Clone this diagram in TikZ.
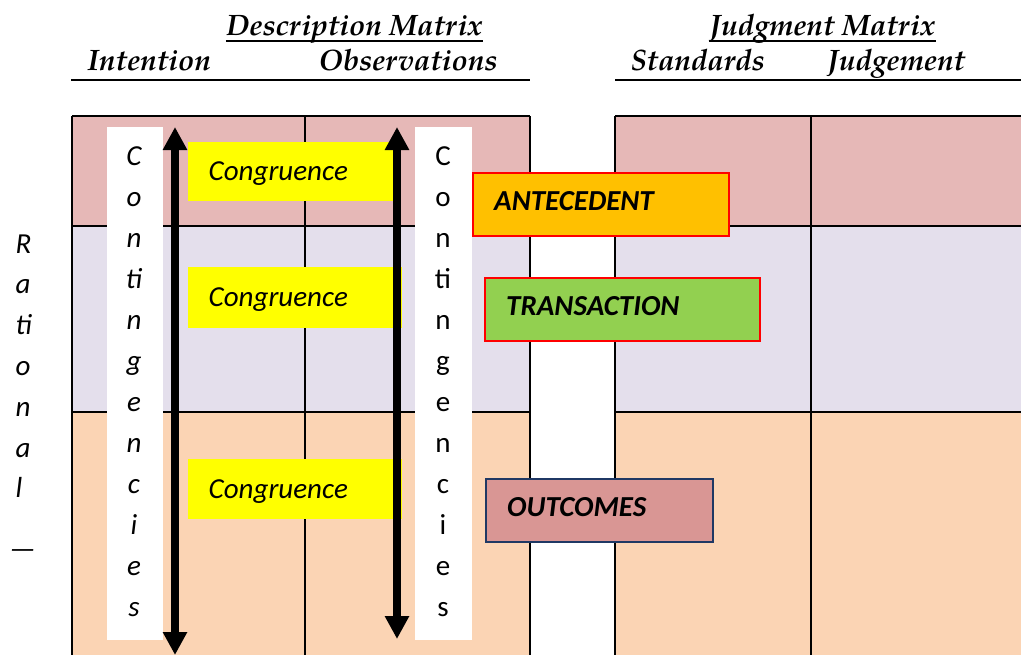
\documentclass[tikz,border=0pt]{standalone}
\usepackage{fontspec}
\setmainfont{Carlito}
\newfontfamily\headfont{texgyrepagella}[Extension=.otf,UprightFont=*-regular,ItalicFont=*-italic,BoldFont=*-bold,BoldItalicFont=*-bolditalic]
\usetikzlibrary{arrows.meta}

\definecolor{antepink}{HTML}{E6B8B7}
\definecolor{translav}{HTML}{E4DFEC}
\definecolor{outpeach}{HTML}{FBD4B4}
\definecolor{congyellow}{HTML}{FFFF00}
\definecolor{anteorange}{HTML}{FFC000}
\definecolor{transgreen}{HTML}{92D050}
\definecolor{outrose}{HTML}{D99694}
\definecolor{outnavy}{HTML}{1F3864}
\definecolor{boxred}{HTML}{FF0000}

\tikzset{
  head/.style={font=\headfont\bfseries\itshape\fontsize{8.4}{10}\selectfont, inner sep=0pt},
  ratletter/.style={font=\itshape\fontsize{8.25}{10}\selectfont, inner sep=0pt, anchor=base west},
  contletter/.style={font=\fontsize{8.25}{10}\selectfont, inner sep=0pt, anchor=base},
  congtext/.style={font=\itshape\fontsize{8.25}{10}\selectfont, inner sep=0pt, anchor=base west},
  stagebox/.style={draw, line width=0.7pt, font=\bfseries\itshape\fontsize{8.25}{10}\selectfont,
    minimum height=0.63cm, inner xsep=0.21cm, anchor=north west, align=left, text depth=0.08cm},
  bigarrow/.style={line width=0.08cm, {Triangle[width=0.23cm,length=0.23cm]}-{Triangle[width=0.23cm,length=0.23cm]}},
  tableline/.style={line width=0.6pt}
}

\begin{document}
\begin{tikzpicture}
  \useasboundingbox (0,0) rectangle (10.21,6.54);

  % headings
  \node[head, anchor=base] (descr) at (3.545,6.19) {Description Matrix};
  \node[head, anchor=base] (judg) at (8.225,6.19) {Judgment Matrix};
  \draw[line width=0.45pt] (descr.west |- 0,6.13) -- (descr.east |- 0,6.13);
  \draw[line width=0.45pt] (judg.west |- 0,6.13) -- (judg.east |- 0,6.13);
  \node[head, anchor=base west] (intent) at (0.87,5.84) {Intention};
  \node[head, anchor=base west] (observ) at (3.18,5.84) {Observations};
  \node[head, anchor=base west] (stand) at (6.30,5.84) {Standards};
  \node[head, anchor=base west] (judgem) at (8.27,5.84) {Judgement};
  \draw[tableline] (0.71,5.74) -- (5.30,5.74);
  \draw[tableline] (6.15,5.74) -- (10.30,5.74);

  % the two tables
  \foreach \xa/\xb in {0.72/5.30, 6.15/10.40} {
    \fill[antepink] (\xa,4.28) rectangle (\xb,5.38);
    \fill[translav] (\xa,2.42) rectangle (\xb,4.28);
    \fill[outpeach] (\xa,-0.20) rectangle (\xb,2.42);
    \foreach \y in {5.38,4.28,2.42}
      \draw[tableline] (\xa,\y) -- (\xb,\y);
    \draw[tableline] (\xa,-0.20) -- (\xa,5.38);
    \draw[tableline] (\xb,-0.20) -- (\xb,5.38);
  }
  \draw[tableline] (3.05,-0.20) -- (3.05,5.38);
  \draw[tableline] (8.11,-0.20) -- (8.11,5.38);

  % contingencies strips
  \fill[white] (1.07,0.14) rectangle (1.63,5.27);
  \fill[white] (4.15,0.14) rectangle (4.72,5.27);
  \foreach \c [count=\i] in {C,o,n,ti,n,g,e,n,c,i,e,s} {
    \node[contletter] (lcont\i) at (1.34,{4.89-0.41*(\i-1)}) {\itshape\c};
    \node[contletter] (rcont\i) at (4.43,{4.89-0.41*(\i-1)}) {\c};
  }

  % rational
  \foreach \c [count=\i] in {R,a,ti,o,n,a,l}
    \node[ratletter] (rat\i) at (0.15,{4.01-0.408*(\i-1)}) {\c};
  \node[ratletter] (ratdash) at (0.09,0.96) {—};

  % congruence
  \fill[congyellow] (1.88,4.53) rectangle (3.93,5.12);
  \fill[congyellow] (1.88,3.26) rectangle (4.02,3.87);
  \fill[congyellow] (1.88,1.35) rectangle (4.02,1.95);
  \node[congtext] (cong1) at (2.08,4.74) {Congruence};
  \node[congtext] (cong2) at (2.08,3.48) {Congruence};
  \node[congtext] (cong3) at (2.08,1.56) {Congruence};

  % arrows
  \coordinate (ltop) at (1.75,5.27);
  \coordinate (lbot) at (1.75,-0.01);
  \coordinate (rtop) at (3.97,5.27);
  \coordinate (rbot) at (3.97,0.15);
  \draw[bigarrow] (lbot) -- (ltop);
  \draw[bigarrow] (rbot) -- (rtop);

  % stages
  \node[stagebox, draw=boxred, fill=anteorange, text width=2.14cm] (ante) at (4.72,4.82) {ANTECEDENT};
  \node[stagebox, draw=boxred, fill=transgreen, text width=2.33cm] (trans) at (4.84,3.77) {TRANSACTION};
  \node[stagebox, draw=outnavy, fill=outrose, text width=1.85cm] (outc) at (4.85,1.76) {OUTCOMES};
\end{tikzpicture}
\end{document}
